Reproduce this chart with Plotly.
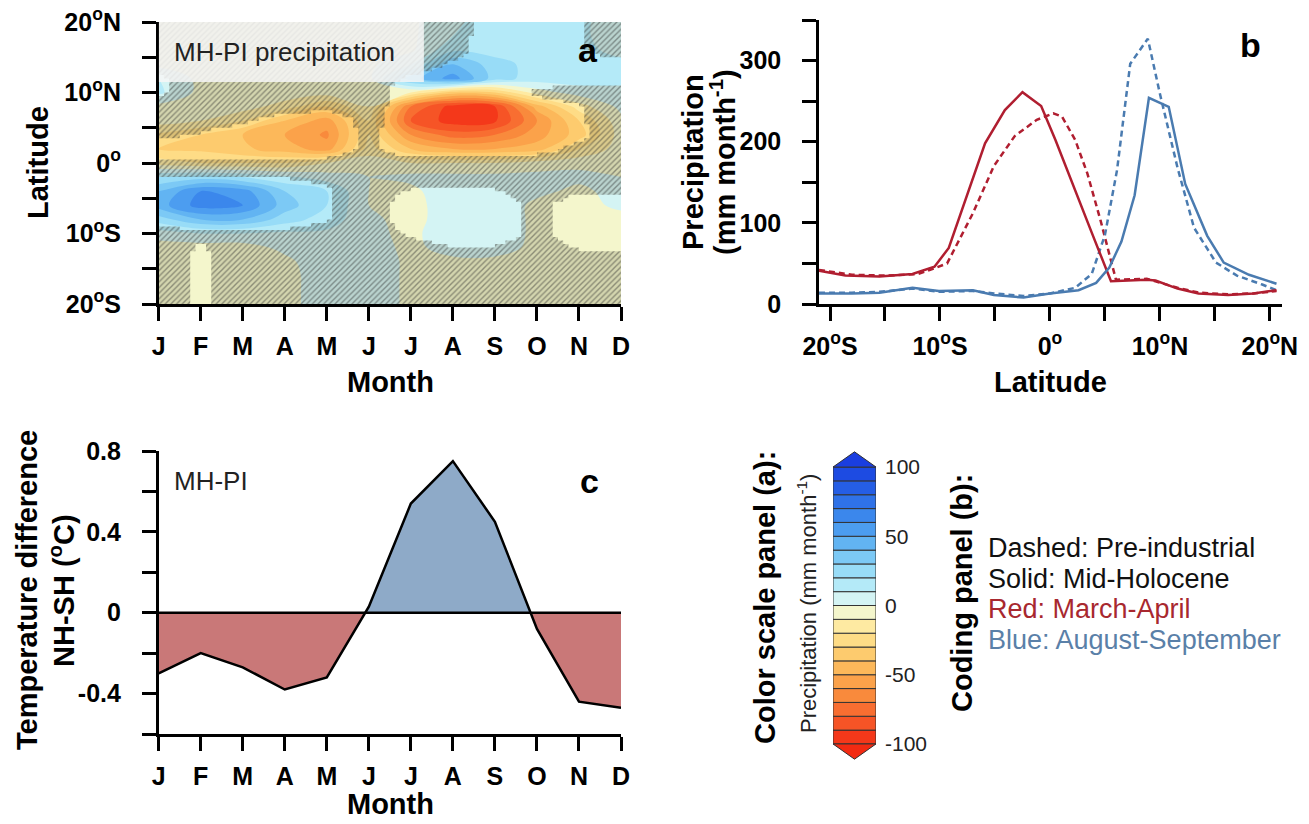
import numpy as np
import plotly.graph_objects as go

W, H = 1309, 824
FONT = "Liberation Sans"

# ---------------- data ----------------
MONTHS = ["J", "F", "M", "A", "M", "J", "J", "A", "S", "O", "N", "D"]
MONTH_IDX = list(range(12))

# panel a: MH-PI precipitation difference (mm/month), rows = latitude, cols = month
LATS_A = list(range(-20, 21, 2))
PRECIP_DIFF = [
    [-5, -5, -5, -5, 8, 8, -3, -3, -3, -3, -5, -5],        # -20
    [-5, -5, -5, -5, 8, 8, -3, -3, -3, -3, -5, -5],        # -18
    [-5, -5, -5, -5, 8, 8, -3, -3, -3, -3, -5, -5],        # -16
    [-5, -5, -5, -3, 8, 8, -3, -3, -3, -3, -5, -5],        # -14
    [-5, -5, -5, 3, 8, 5, -3, 5, 5, -3, -5, -5],           # -12
    [5, 10, 10, 8, 8, 3, -3, 8, 8, -3, -5, -5],            # -10
    [25, 40, 40, 25, 15, 3, -5, 8, 8, -3, -5, -5],         # -8
    [45, 65, 60, 35, 20, 0, -5, 8, 8, -3, -5, 3],          # -6
    [40, 60, 55, 30, 20, 0, -3, 8, 8, 3, -3, 5],           # -4
    [20, 25, 20, 12, 5, 0, 3, 3, 3, 3, 3, 0],              # -2
    [-15, -20, -20, -20, -10, -5, -10, -10, -10, -5, -3, -3],  # 0
    [-30, -32, -38, -45, -55, -15, -40, -50, -50, -45, -20, -5],  # 2
    [-22, -30, -40, -50, -62, -20, -60, -75, -70, -55, -35, -5],  # 4
    [-5, -10, -20, -40, -55, -20, -80, -95, -92, -60, -30, -3],   # 6
    [-3, -3, -5, -15, -30, -10, -70, -95, -90, -45, -15, 3],      # 8
    [12, -3, -3, -3, -5, -5, -10, -35, -30, -5, 5, 8],            # 10
    [10, -3, -3, -3, -3, -3, 35, 55, 25, 15, 15, 12],             # 12
    [-3, -3, -3, -3, -3, -3, 10, 40, 25, 15, 15, 12],             # 14
    [-3, -3, -3, -3, -3, -3, -2, 18, 15, 15, 12, 8],              # 16
    [-3, -3, -3, -3, -3, -3, -2, 10, 15, 15, 12, 5],              # 18
    [-3, -3, -3, -3, -3, -3, -2, 8, 15, 15, 12, 5],               # 20
]
# significance (1 = significant, unhatched; < 0.5 = hatched)
SIGNIF = [
    [0, 0.65, 0, 0, 0, 0, 0, 0, 0, 0, 0, 0],
    [0, 0.65, 0, 0, 0, 0, 0, 0, 0, 0, 0, 0],
    [0, 0.65, 0, 0, 0, 0, 0, 0, 0, 0, 0, 0],
    [0, 0.65, 0, 0, 0, 0, 0, 0, 0, 0, 0, 0],
    [0, 0.6, 0, 0, 0, 0, 0.2, 0.45, 0.45, 0, 0.6, 0.6],
    [0.1, 0.3, 0.3, 0.3, 0, 0, 0.6, 1, 1, 0.2, 1, 1],
    [1, 1, 1, 1, 0.6, 0, 1, 1, 1, 0.2, 1, 1],
    [1, 1, 1, 1, 0.6, 0, 1, 1, 1, 0.2, 1, 1],
    [1, 1, 1, 1, 0.6, 0, 0.6, 0.6, 0.6, 0, 0.4, 0.4],
    [0.45, 0.45, 0.45, 0.45, 0.3, 0, 0, 0, 0, 0, 0, 0],
    [0.4, 0.4, 0.4, 0.4, 0.2, 0, 0.1, 0, 0, 0, 0, 0],
    [1, 1, 1, 1, 1, 0.35, 1, 1, 1, 0.8, 0.3, 0],
    [0.3, 0.55, 1, 1, 1, 0.35, 1, 1, 1, 1, 0.7, 0],
    [0, 0.2, 0.3, 1, 1, 0.2, 1, 1, 1, 1, 0.6, 0],
    [0, 0, 0, 0, 0.3, 0.1, 1, 1, 1, 1, 0.55, 0],
    [0.7, 0, 0, 0, 0, 0.1, 1, 1, 1, 0.3, 0, 0],
    [0.7, 0, 0, 0, 0, 0, 0.6, 1, 1, 1, 1, 1],
    [0, 0, 0, 0, 0, 0, 0.1, 0.6, 1, 1, 1, 0.8],
    [0, 0, 0, 0, 0, 0, 0, 0.2, 1, 1, 0.6, 0],
    [0, 0, 0, 0, 0, 0, 0, 0.1, 1, 1, 0.6, 0],
    [0, 0, 0, 0, 0, 0, 0, 0.1, 1, 1, 0.6, 0],
]

# panel b: zonal precipitation (mm/month)
RED_MH_LAT = [-21, -18.6, -15.5, -12.5, -10.5, -9.2, -5.9, -4.1, -2.5, -0.8, 0.5, 2.6, 3.8, 5.55, 8.8, 9.6, 11.6, 13.5, 16.2, 18.5, 20.6]
RED_MH_VAL = [41, 35, 34, 37, 46, 69, 198, 239, 261, 244, 202, 128, 88, 28, 30, 29, 19, 13, 11, 13, 17]
RED_PI_LAT = [-21, -18, -15, -12, -10.5, -9.35, -7.0, -5.1, -3.2, -1.2, 0.3, 1.1, 2.3, 3.4, 4.6, 5.4, 6.0, 8.8, 11.6, 13.5, 16.2, 18.5, 20.6]
RED_PI_VAL = [42, 36, 35, 37, 44, 50, 112, 170, 207, 227, 235, 231, 202, 161, 103, 60, 30, 31, 20, 14, 12, 13, 16]
BLUE_MH_LAT = [-21, -18, -15.5, -12.5, -10.1, -7, -5.1, -2.4, 0, 2.6, 4.2, 5.4, 6.5, 7.7, 9.0, 10.8, 12.3, 14.3, 15.8, 18.1, 20.6]
BLUE_MH_VAL = [13, 13, 14, 20, 16, 17, 11, 8, 13, 17, 26, 45, 77, 134, 254, 243, 148, 84, 51, 36, 25]
BLUE_PI_LAT = [-21, -18, -15.5, -12.5, -10.1, -7, -5.1, -2.4, 0, 2.3, 3.8, 5.0, 6.1, 7.3, 8.9, 10.0, 11.6, 13.1, 15.1, 17.0, 19.3, 20.6]
BLUE_PI_VAL = [14, 14, 15, 19, 15, 16, 13, 10, 13, 20, 37, 85, 165, 296, 327, 259, 168, 94, 51, 35, 24, 17]

# panel c: NH-SH temperature difference (degC)
TEMP_DIFF = [-0.30, -0.20, -0.27, -0.38, -0.32, 0.03, 0.54, 0.75, 0.45, -0.08, -0.44, -0.47]

# color scale
LEVELS = list(range(-100, 101, 10))
LEVEL_COLORS = ['#f4381a', '#f65426', '#f86e31', '#f98a3c', '#fba24a', '#fcb85a', '#fdcb6e',
                '#fedc86', '#feeaa2', '#f4f6cc', '#d4f4f4', '#b4eaf8', '#98dcf7', '#7cc9f5',
                '#62b4f2', '#4c9df0', '#3b87ec', '#2f72e8', '#255ee5', '#1d4be2']
TRI_TOP_COLOR = '#1a3ee0'
TRI_BOT_COLOR = '#f22a12'
CB_EXT = 11
CB_TICKS = [-100, -50, 0, 50, 100]
CB_TEXT = ['-100', '-50', '0', '50', '100']

LAT_TICKS = [-20, -15, -10, -5, 0, 5, 10, 15, 20]
LAT_TEXT = ['20<sup>o</sup>S', '', '10<sup>o</sup>S', '', '0<sup>o</sup>', '', '10<sup>o</sup>N', '', '20<sup>o</sup>N']

RED = '#b01e30'
BLUE = '#4a7bb0'

# ---------------- figure ----------------
fig = go.Figure()

vmin, vmax = LEVELS[0], LEVELS[-1]
cs = [[0.0, LEVEL_COLORS[0]]]
for i, c in enumerate(LEVEL_COLORS):
    cs.append([((LEVELS[i] + LEVELS[i + 1]) / 2 - vmin) / (vmax - vmin), c])
cs.append([1.0, LEVEL_COLORS[-1]])

fig.add_trace(go.Contour(
    x=MONTH_IDX, y=LATS_A, z=PRECIP_DIFF, zmin=vmin, zmax=vmax,
    autocontour=False, contours=dict(start=vmin, end=vmax, size=10, coloring='fill', showlines=False),
    line=dict(width=0, smoothing=1.0), colorscale=cs, showscale=False, hoverinfo='skip',
    xaxis='x', yaxis='y'))

# hatching for non-significant areas
sig = np.array(SIGNIF, float)
lat_arr = np.array(LATS_A, float)
dm, dl = 0.125, 0.5
m_edges = np.arange(0, 11 + dm / 2, dm)
m_cent = (m_edges[:-1] + m_edges[1:]) / 2
l_edges = np.arange(-20, 20 + dl / 2, dl)
l_cent = (l_edges[:-1] + l_edges[1:]) / 2
sig_m = np.array([np.interp(m_cent, MONTH_IDX, row) for row in sig])
hx, hy = [], []
for j in range(len(m_cent)):
    col = np.interp(l_cent, lat_arr, sig_m[:, j])
    hat = col < 0.5
    k = 0
    n = len(l_cent)
    while k < n:
        if hat[k]:
            s = k
            while k < n and hat[k]:
                k += 1
            y0, y1 = l_edges[s], l_edges[k]
            x0, x1 = m_edges[j], m_edges[j + 1]
            hx += [x0, x1, x1, x0, x0, None]
            hy += [y0, y0, y1, y1, y0, None]
        else:
            k += 1

fig.add_trace(go.Scatter(
    x=hx, y=hy, mode='lines', line=dict(width=0, color='rgba(0,0,0,0)'),
    fill='toself', fillcolor='rgba(80,80,55,0.2)',
    fillpattern=dict(shape='/', fgcolor='rgba(40,40,40,0.85)', bgcolor='rgba(80,80,55,0.2)',
                     size=4, solidity=0.35),
    hoverinfo='skip', showlegend=False, xaxis='x', yaxis='y'))

# panel b lines
for xs, ys, col, dash in [(RED_PI_LAT, RED_PI_VAL, RED, '6px,4px'),
                          (BLUE_PI_LAT, BLUE_PI_VAL, BLUE, '6px,4px'),
                          (RED_MH_LAT, RED_MH_VAL, RED, 'solid'),
                          (BLUE_MH_LAT, BLUE_MH_VAL, BLUE, 'solid')]:
    fig.add_trace(go.Scatter(x=xs, y=ys, mode='lines', line=dict(color=col, width=2.5, dash=dash),
                             showlegend=False, hoverinfo='skip', xaxis='x2', yaxis='y2'))

# panel c fills
tm, tv = [], []
for i in range(12):
    if i > 0 and TEMP_DIFF[i - 1] * TEMP_DIFF[i] < 0:
        a, b = TEMP_DIFF[i - 1], TEMP_DIFF[i]
        tm.append(i - 1 + a / (a - b))
        tv.append(0.0)
    tm.append(i)
    tv.append(TEMP_DIFF[i])
pos = [max(v, 0) for v in tv]
neg = [min(v, 0) for v in tv]
fig.add_trace(go.Scatter(x=tm, y=pos, mode='lines', line=dict(width=0), fill='tozeroy',
                         fillcolor='#8eaac8', showlegend=False, hoverinfo='skip', xaxis='x3', yaxis='y3'))
fig.add_trace(go.Scatter(x=tm, y=neg, mode='lines', line=dict(width=0), fill='tozeroy',
                         fillcolor='#c97878', showlegend=False, hoverinfo='skip', xaxis='x3', yaxis='y3'))
fig.add_trace(go.Scatter(x=MONTH_IDX, y=TEMP_DIFF, mode='lines', line=dict(color='black', width=2.5),
                         showlegend=False, hoverinfo='skip', xaxis='x3', yaxis='y3'))

# colour bar (manual)
fig.add_trace(go.Bar(x=[0] * (len(LEVELS) - 1), y=[LEVELS[i + 1] - LEVELS[i] for i in range(len(LEVELS) - 1)],
                     base=LEVELS[:-1], width=1, marker=dict(color=LEVEL_COLORS, line=dict(color='#333', width=1)),
                     showlegend=False, hoverinfo='skip', xaxis='x4', yaxis='y4'))
fig.add_trace(go.Scatter(x=[-0.5, 0, 0.5, -0.5], y=[vmax, vmax + CB_EXT, vmax, vmax], mode='lines',
                         fill='toself', fillcolor=TRI_TOP_COLOR, line=dict(color='#333', width=1),
                         showlegend=False, hoverinfo='skip', xaxis='x4', yaxis='y4'))
fig.add_trace(go.Scatter(x=[-0.5, 0, 0.5, -0.5], y=[vmin, vmin - CB_EXT, vmin, vmin], mode='lines',
                         fill='toself', fillcolor=TRI_BOT_COLOR, line=dict(color='#333', width=1),
                         showlegend=False, hoverinfo='skip', xaxis='x4', yaxis='y4'))


def px_x(p):
    return p / W


def px_y(p):
    return 1 - p / H


def ax(standoff, **kw):
    d = dict(showline=True, linecolor='black', linewidth=2.5, ticks='outside', ticklen=14, tickwidth=2.5,
             tickcolor='black', showgrid=False, zeroline=False, fixedrange=True, mirror=False, automargin=False,
             tickfont=dict(family=FONT, size=25, color='black', weight='bold'), ticklabelstandoff=standoff)
    d.update(kw)
    return d


fig.update_layout(
    width=W, height=H, autosize=False, margin=dict(l=0, r=0, t=0, b=0),
    paper_bgcolor='white', plot_bgcolor='rgba(0,0,0,0)', barmode='overlay', showlegend=False,
    font=dict(family=FONT, color='black'),
    xaxis=ax(4, domain=[px_x(158.7), px_x(621)], range=[0, 11], anchor='y',
             tickvals=MONTH_IDX, ticktext=MONTHS),
    yaxis=ax(16, domain=[px_y(304), px_y(22)], range=[-20, 20], anchor='x',
             tickvals=LAT_TICKS, ticktext=LAT_TEXT),
    xaxis2=ax(4, domain=[px_x(819), px_x(1282)], range=[-21, 21.1], anchor='y2',
              tickvals=LAT_TICKS, ticktext=LAT_TEXT),
    yaxis2=ax(16, domain=[px_y(304), px_y(20)], range=[0, 350], anchor='x2',
              tickvals=list(range(0, 351, 50)),
              ticktext=['0', '', '100', '', '200', '', '300', '']),
    xaxis3=ax(4, domain=[px_x(158.7), px_x(621)], range=[0, 11], anchor='y3',
              tickvals=MONTH_IDX, ticktext=MONTHS),
    yaxis3=ax(16, domain=[px_y(734), px_y(451)], range=[-0.6, 0.8], anchor='x3',
              tickvals=[-0.6, -0.4, -0.2, 0, 0.2, 0.4, 0.6, 0.8],
              ticktext=['', '-0.4', '', '0', '', '0.4', '', '0.8']),
    xaxis4=dict(domain=[px_x(833), px_x(876)], range=[-0.5, 0.5], anchor='y4', visible=False, fixedrange=True),
    yaxis4=dict(domain=[px_y(765), px_y(446)], range=[-115.2, 115.2], anchor='x4', side='right',
                showline=False, showgrid=False, zeroline=False, ticks='', fixedrange=True, automargin=False,
                tickvals=CB_TICKS, ticktext=CB_TEXT, ticklabelstandoff=8,
                tickfont=dict(family=FONT, size=21, color='#222')),
)

# zero line panel c
fig.add_shape(type='line', xref='x3', yref='y3', x0=0, x1=11, y0=0, y1=0,
              line=dict(color='black', width=2.5), layer='above')
# label box panel a
fig.add_shape(type='rect', xref='x', yref='y', x0=0, x1=6.31, y0=11.5, y1=20,
              fillcolor='rgba(246,246,246,0.86)', line=dict(width=0), layer='above')


def ann(text, px, py, size, bold=False, angle=0, xanchor='center', color='black'):
    fig.add_annotation(text=text, x=px_x(px), y=px_y(py), xref='paper', yref='paper', showarrow=False,
                       textangle=angle, xanchor=xanchor, yanchor='middle',
                       font=dict(family=FONT, size=size, color=color, weight='bold' if bold else 'normal'))


ann('Latitude', 38, 163, 29, bold=True, angle=-90)
ann('Month', 390, 382, 29, bold=True)
ann('Precipitation', 693, 162, 29, bold=True, angle=-90)
ann('(mm month<sup>-1</sup>)', 723, 162, 29, bold=True, angle=-90)
ann('Latitude', 1050, 382, 29, bold=True)
ann('Temperature difference', 27, 590, 29, bold=True, angle=-90)
ann('NH-SH (<sup>o</sup>C)', 62, 590, 29, bold=True, angle=-90)
ann('Month', 390, 804, 29, bold=True)

ann('MH-PI precipitation', 172, 52, 26, xanchor='left', color='#222')
ann('MH-PI', 172, 481, 26, xanchor='left', color='#222')
ann('a', 588, 50, 34, bold=True)
ann('b', 1250, 45, 34, bold=True)
ann('c', 589, 481, 34, bold=True)

ann('Color scale panel (a):', 765, 598, 29, bold=True, angle=-90)
ann('Precipitation (mm month<sup>-1</sup>)', 807, 604, 22, angle=-90, color='#222')
ann('Coding panel (b):', 962, 593, 29, bold=True, angle=-90)

ann('Dashed: Pre-industrial', 986, 548, 27, xanchor='left', color='#111')
ann('Solid: Mid-Holocene', 986, 579, 27, xanchor='left', color='#111')
ann('Red: March-April', 986, 609, 27, xanchor='left', color='#a8282f')
ann('Blue: August-September', 986, 640, 27, xanchor='left', color='#5a80a8')

fig.write_html("out.html")
